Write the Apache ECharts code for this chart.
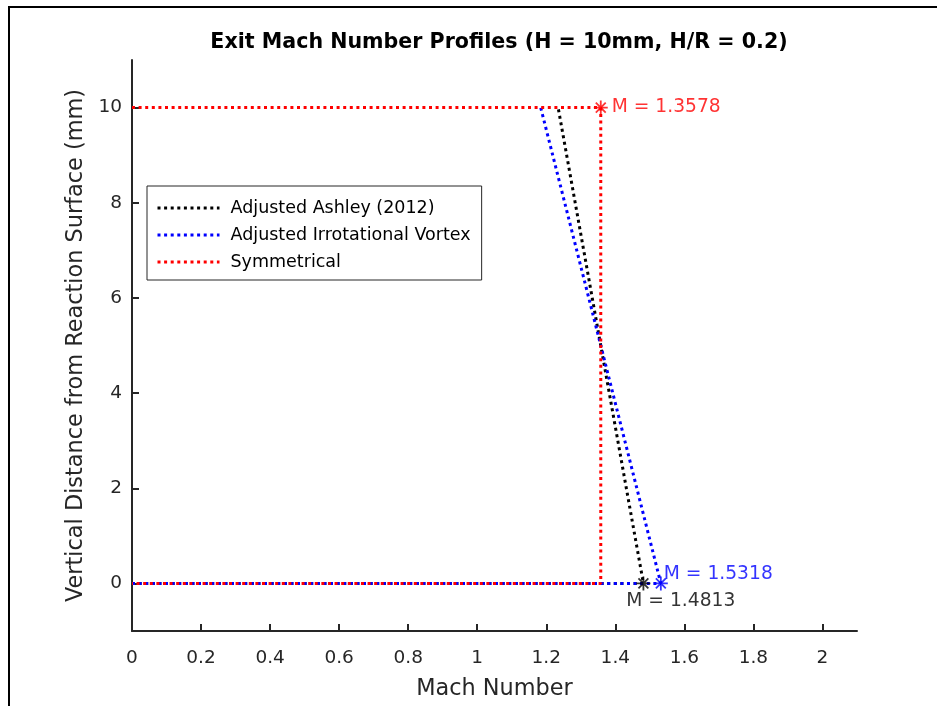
<!DOCTYPE html>
<html>
<head>
<meta charset="utf-8">
<script src="https://cdn.jsdelivr.net/npm/echarts@6/dist/echarts.min.js"></script>
<style>
  html, body { margin: 0; padding: 0; background: #fff; }
  #chart { width: 937px; height: 706px; }
</style>
</head>
<body>
<div id="chart"></div>
<script>
// Exit Mach number profiles across the nozzle height
const heights = [0, 10];                 // mm, bottom and top of the exit
const machAshley = [1.4813, 1.2343];     // Adjusted Ashley (2012), at heights[0], heights[1]
const machVortex = [1.5318, 1.1838];     // Adjusted Irrotational Vortex
const machSymmetric = 1.3578;            // Symmetrical (uniform)
const xTicks = [0, 0.2, 0.4, 0.6, 0.8, 1, 1.2, 1.4, 1.6, 1.8, 2];
const yTicks = [0, 2, 4, 6, 8, 10];
const seriesNames = ['Adjusted Ashley (2012)', 'Adjusted Irrotational Vortex', 'Symmetrical'];

const FONT = 'DejaVu Sans';
const AXIS_COLOR = '#262626';
const ASTERISK = 'path://M0,-10L0,10M-10,0L10,0M-7.07,-7.07L7.07,7.07M-7.07,7.07L7.07,-7.07';
const dotted = [3, 3.6];

function profile(m) {
  // baseline along y = 0, then the profile line from bottom to top
  return [[0, heights[0]], [m[0], heights[0]], [m[1], heights[1]]];
}

function lineSeries(name, color, data) {
  return {
    name: name,
    type: 'line',
    data: data,
    symbol: 'none',
    animation: false,
    lineStyle: { color: color, width: 3, type: dotted, cap: 'butt' },
    itemStyle: { color: color }
  };
}

function markerSeries(color, point, label) {
  return {
    type: 'scatter',
    data: [point],
    symbol: ASTERISK,
    symbolSize: 14,
    animation: false,
    itemStyle: { color: 'rgba(0,0,0,0)', borderColor: color, borderWidth: 1.8 },
    label: Object.assign({
      show: true,
      position: 'right',
      distance: 0,
      color: color,
      fontFamily: FONT,
      fontSize: 18.7,
      formatter: p => 'M = ' + p.value[0].toFixed(4)
    }, label),
    z: 5
  };
}

const chart = echarts.init(document.getElementById('chart'), null, { renderer: 'canvas' });
chart.setOption({
  backgroundColor: '#fff',
  animation: false,
  title: {
    text: 'Exit Mach Number Profiles (H = 10mm, H/R = 0.2)',
    left: 494,
    textAlign: 'center',
    top: 27,
    textStyle: { fontFamily: FONT, fontWeight: 'bold', fontSize: 20.6, color: '#000' }
  },
  graphic: [{
    type: 'rect',
    shape: { x: 9, y: 7, width: 940, height: 720 },
    style: { fill: 'none', stroke: '#000', lineWidth: 2 },
    silent: true
  }],
  grid: { left: 132, right: 80, top: 60, bottom: 75, containLabel: false },
  legend: {
    orient: 'vertical',
    left: 147,
    top: 186,
    data: seriesNames,
    itemWidth: 62,
    itemHeight: 14,
    itemGap: 9,
    padding: [13, 11, 9, 9],
    borderColor: AXIS_COLOR,
    borderWidth: 1,
    borderRadius: 0,
    backgroundColor: '#fff',
    itemStyle: { opacity: 0 },
    lineStyle: { width: 3, type: dotted, cap: 'butt' },
    textStyle: { fontFamily: FONT, fontSize: 17.5, color: '#000', padding: [0, 0, 0, 6] }
  },
  xAxis: {
    type: 'value',
    min: 0,
    max: 2.1,
    name: 'Mach Number',
    nameLocation: 'middle',
    nameGap: 47,
    nameTextStyle: { fontFamily: FONT, fontSize: 22.4, color: AXIS_COLOR },
    axisLine: { onZero: false, lineStyle: { color: AXIS_COLOR, width: 2 } },
    axisTick: { inside: true, length: 7, customValues: xTicks, lineStyle: { color: AXIS_COLOR, width: 2 } },
    axisLabel: { customValues: xTicks, margin: 18, fontFamily: FONT, fontSize: 18.5, color: AXIS_COLOR, formatter: v => String(v) },
    splitLine: { show: false }
  },
  yAxis: {
    type: 'value',
    min: -1,
    max: 11,
    name: 'Vertical Distance from Reaction Surface (mm)',
    nameLocation: 'middle',
    nameGap: 44,
    nameTextStyle: { fontFamily: FONT, fontSize: 22.4, color: AXIS_COLOR },
    axisLine: { onZero: false, lineStyle: { color: AXIS_COLOR, width: 2 } },
    axisTick: { inside: true, length: 7, customValues: yTicks, lineStyle: { color: AXIS_COLOR, width: 2 } },
    axisLabel: { customValues: yTicks, margin: 10, fontFamily: FONT, fontSize: 18.5, color: AXIS_COLOR, padding: [4, 0, 0, 0] },
    splitLine: { show: false }
  },
  series: [
    lineSeries(seriesNames[0], '#000000', profile(machAshley)),
    lineSeries(seriesNames[1], '#0000ff', profile(machVortex)),
    lineSeries(seriesNames[2], '#ff0000', [
      [0, heights[1]], [machSymmetric, heights[1]],
      [machSymmetric, heights[0]], [0, heights[0]]
    ]),
    markerSeries('#000000', [machAshley[0], heights[0]], { offset: [-25, 18] }),
    markerSeries('#0000ff', [machVortex[0], heights[0]], { offset: [-5, -9] }),
    markerSeries('#ff0000', [machSymmetric, heights[1]], { distance: 3 })
  ]
});
</script>
</body>
</html>
